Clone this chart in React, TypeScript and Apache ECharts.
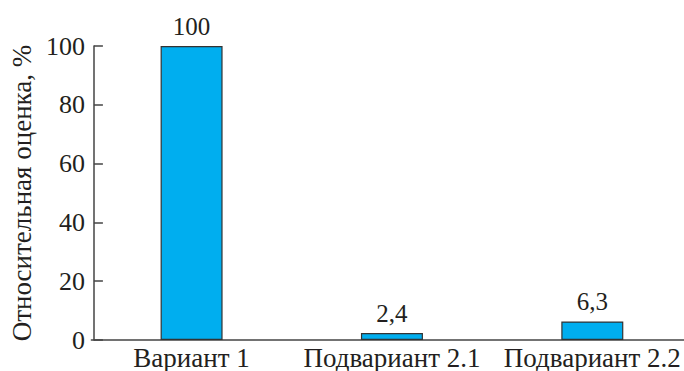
import React, { useEffect, useRef } from "react";
import * as echarts from "echarts";

const categories = ["Вариант 1", "Подвариант 2.1", "Подвариант 2.2"];
const values = [100, 2.4, 6.3];
const valueLabels = ["100", "2,4", "6,3"];
const yTicks = [0, 20, 40, 60, 80, 100];

const FONT = "Liberation Serif";
const INK = "#231f20";

export default function App() {
  const ref = useRef<HTMLDivElement>(null);
  useEffect(() => {
    document.body.style.margin = "0";
    const chart = echarts.init(ref.current!, null, { renderer: "svg" });
    chart.setOption({
      animation: false,
      grid: { left: 89.5, top: 46, right: 7.5, bottom: 30, containLabel: false },
      xAxis: {
        type: "category",
        data: categories,
        axisLine: { lineStyle: { color: "#444", width: 1.5 } },
        axisTick: { show: false },
        axisLabel: { color: INK, fontFamily: FONT, fontSize: 27, margin: 4, interval: 0 },
      },
      yAxis: {
        type: "value",
        min: yTicks[0],
        max: yTicks[yTicks.length - 1],
        interval: 20,
        offset: -2.5,
        name: "Относительная оценка, %",
        nameLocation: "middle",
        nameGap: 58,
        nameTextStyle: { color: INK, fontFamily: FONT, fontSize: 27 },
        splitLine: { show: false },
        axisLine: { show: true, lineStyle: { color: "#444", width: 1.5 } },
        axisTick: { show: true, inside: true, length: 9, lineStyle: { color: "#444", width: 1.5 } },
        axisLabel: { color: INK, fontFamily: FONT, fontSize: 26, margin: 9 },
      },
      series: [
        {
          type: "bar",
          data: values,
          barWidth: 62,
          itemStyle: { color: "#00aeef", borderColor: "#333", borderWidth: 1.2 },
          label: {
            show: true,
            position: "top",
            distance: 7,
            color: INK,
            fontFamily: FONT,
            fontSize: 25,
            formatter: (p: any) => valueLabels[p.dataIndex],
          },
        },
      ],
    });
    return () => chart.dispose();
  }, []);
  return (
    <div style={{ width: 684, height: 371, overflow: "hidden", position: "relative" }}>
      <div ref={ref} style={{ width: 700, height: 371 }} />
    </div>
  );
}
